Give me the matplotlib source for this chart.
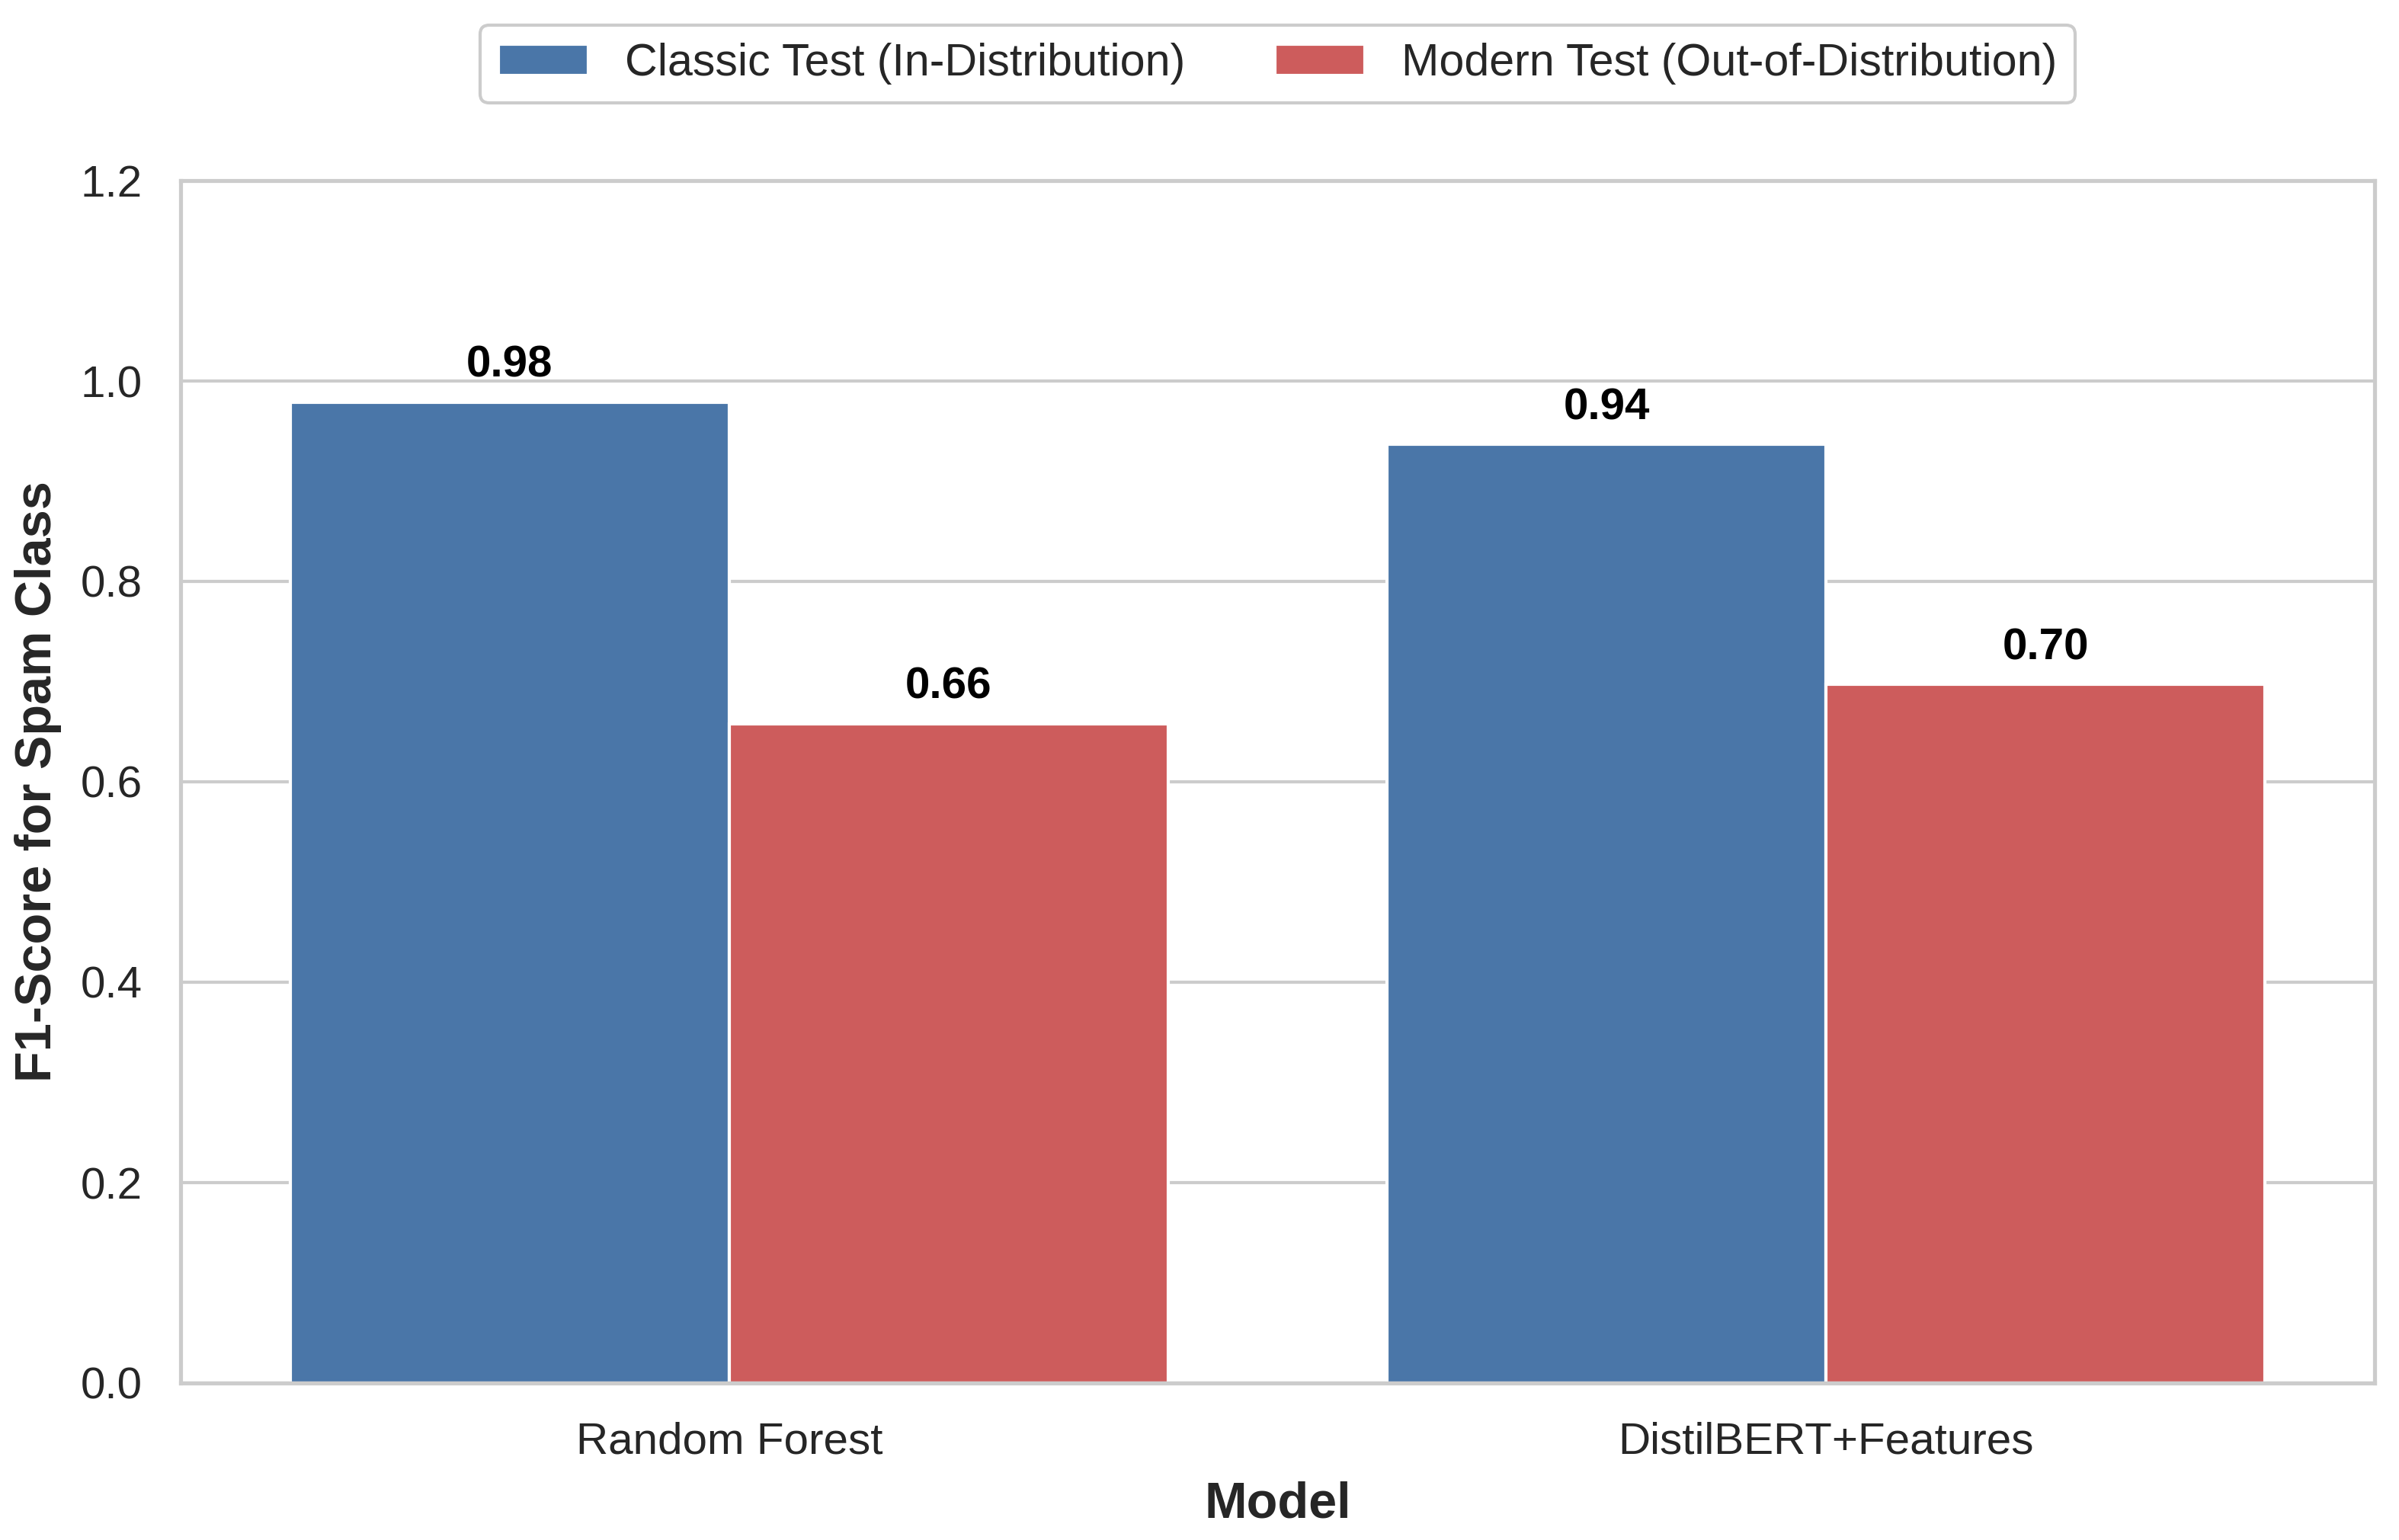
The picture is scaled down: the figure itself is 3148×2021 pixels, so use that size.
import numpy as np
import matplotlib
matplotlib.use('Agg')
import matplotlib.pyplot as plt
import seaborn as sns

# data
models = ['Random Forest', 'DistilBERT+Features']
series = ['Classic Test (In-Distribution)', 'Modern Test (Out-of-Distribution)']
classic_f1 = [0.979, 0.937]
modern_f1 = [0.658, 0.697]
colors = ['#4a76a8', '#cd5c5c']

sns.set_style('whitegrid')
plt.rcParams['font.family'] = ['Liberation Sans', 'DejaVu Sans']
plt.rcParams['text.color'] = '#262626'
plt.rcParams['axes.labelcolor'] = '#262626'

fig = plt.figure(figsize=(3148 / 300, 2021 / 300), dpi=300)
ax = fig.add_axes([237 / 3148, 1 - 1815 / 2021, (3116 - 237) / 3148, (1815 - 237) / 2021])

x = np.arange(len(models))
width = 0.4
for i, (vals, name) in enumerate(zip([classic_f1, modern_f1], series)):
    bars = ax.bar(x + (i - 0.5) * width, vals, width, color=colors[i],
                  edgecolor='white', linewidth=1.0, label=name)
    for b, v in zip(bars, vals):
        ax.annotate(f'{v:.2f}', (b.get_x() + b.get_width() / 2, v),
                    xytext=(0, 5), textcoords='offset points',
                    ha='center', va='bottom', fontsize=14, fontweight='bold',
                    color='black')

ax.set_xlim(-0.5, 1.5)
ax.set_ylim(0, 1.2)
ax.set_yticks(np.arange(0, 1.21, 0.2))
ax.set_xticks(x)
ax.set_xticklabels(models)
ax.xaxis.grid(False)
ax.yaxis.grid(True, color='#cccccc', linewidth=1.0)
ax.tick_params(axis='x', labelsize=14, pad=12, length=0)
ax.tick_params(axis='y', labelsize=14, pad=12, length=0)
for s in ax.spines.values():
    s.set_color('#cccccc')
    s.set_linewidth(1.25)

ax.set_xlabel('Model', fontsize=16, fontweight='bold', labelpad=6)
ax.set_ylabel('F1-Score for Spam Class', fontsize=16, fontweight='bold', labelpad=6)

leg = ax.legend(loc='center', bbox_to_anchor=(0.5, 1.097), ncol=2, fontsize=14.2,
                frameon=True, fancybox=True, edgecolor='#cccccc', framealpha=1.0)

fig.savefig('out.png', dpi=300)
